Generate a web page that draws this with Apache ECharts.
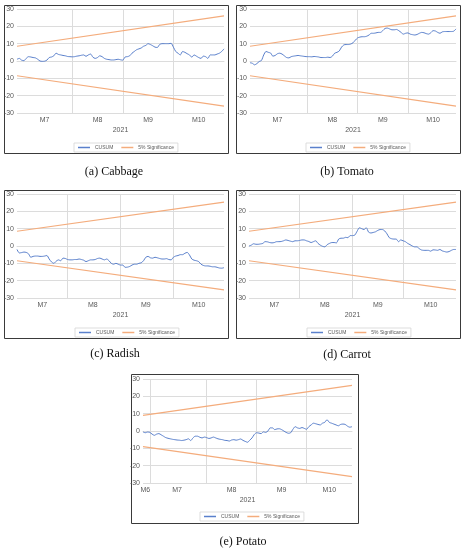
<!DOCTYPE html>
<html><head><meta charset="utf-8">
<script src="https://cdn.jsdelivr.net/npm/echarts@6/dist/echarts.min.js"></script>
<style>html,body{margin:0;padding:0;background:#fff}#c{width:464px;height:550px}</style>
</head><body><div id="c"></div><script>
// ---------- data ----------
const yearLabel = '2021';
const seriesNames = ['CUSUM', '5% Significance'];
const yTickMin = -30, yTickMax = 30, yTickStep = 10;

const cabbageMonths = ['M7','M8','M9','M10'];
const cabbageMonthCounts = [24,22,22,23];
const cabbageCusum = [1,1.5,0.5,0.2,1.5,2.5,2.3,2,1.8,1,0,-0.2,-0.1,0.5,2,2.3,3,4.5,3.8,3.5,3.2,3,2.6,2.5,
  2.4,2.5,2.8,3,3.3,3.5,2.7,3.5,4,2.2,1.5,2,3,2.5,1.5,1,0.8,0.6,0.6,0.8,1,0.7,
  0.5,2.3,2.5,3,4.5,5.5,6.5,7,7.5,8.5,9,10,9.5,8.8,8,7.8,9.5,10,10,10,10,10.2,
  8,5.5,4.5,3.5,5.5,5,4.2,3.5,2.2,3.5,2.8,2,1.5,2.8,2.5,1.5,3.5,3.5,3.5,4,4.5,5.5,7];
const cabbageUpper = [8.5, 26];
const cabbageLower = [-8.5, -26];

const tomatoMonths = ['M7','M8','M9','M10'];
const tomatoMonthCounts = [25,22,22,22];
const tomatoCusum = [-1,-1.3,-2.2,-1.5,-0.3,0.3,3.5,5.5,5,4.6,2.8,3.2,4.2,4.5,4,3,2,1.8,2.5,2.8,3,3.2,3,2.8,2.6,
  2.5,2.5,2.4,2.6,2.5,2.3,2,2,2,2.2,2,2.8,4.5,5,5.8,8,9.3,9.5,9.5,9.8,10.5,
  12,13.3,13.8,14,14,14.3,15,16,16,16.2,16.5,16.5,17.5,18.8,19,18.5,18,18,18.2,17.5,16.5,15.5,
  16,16.2,15.5,15.2,15,15.3,16,16.5,16.3,15.8,15.5,16.3,17.5,17.3,16.5,16,16.8,17,17,17,17,17.2,18.5];
const tomatoUpper = [8.5, 26];
const tomatoLower = [-8.5, -26];

const radishMonths = ['M7','M8','M9','M10'];
const radishMonthCounts = [22,23,23,23];
const radishCusum = [-2,-4,-3.8,-3.5,-3.7,-4.5,-6.5,-6,-5.8,-5.8,-6,-6,-5.8,-5.5,-7.5,-9.2,-10,-8.8,-8,-8.5,-7,-7.2,
  -7.8,-8,-8,-7.8,-7.8,-7.5,-7.8,-8.2,-9,-8.5,-8,-8,-7.8,-7.2,-7,-7.5,-8,-7.5,-8.5,-10,-10.5,-10,-10.5,
  -11,-11,-12.3,-12.2,-11.8,-11,-10.5,-10.5,-10,-9.7,-8.5,-6.5,-6,-6.8,-7,-6.5,-6.8,-7.2,-7.5,-7.5,-7.3,-7.8,-8,
  -6.5,-5.8,-5.5,-5,-5,-4.2,-3.7,-5.2,-7.5,-8.2,-8.5,-9,-10.5,-11.2,-11.5,-11.5,-11.7,-12,-12,-12.3,-12.7,-12.8,-12.5];
const radishUpper = [8.5, 25.3];
const radishLower = [-8.5, -25.3];

const carrotMonths = ['M7','M8','M9','M10'];
const carrotMonthCounts = [22,23,22,24];
const carrotCusum = [0,0.5,1.3,1,1,1.2,1.5,2.5,2.4,2,1.8,2,2.5,2.5,2.6,3,3.5,3.2,2.8,2.5,3,3,
  3.2,3.5,3.5,3,2.6,2,2.5,3,1.5,0.5,-0.2,-0.5,0.8,1.5,2,2,1.8,4,4.5,4.5,5,4.8,6,
  6,6.3,8.5,10.5,10,9.5,10.5,8,7.5,7.8,8.2,9,9.5,9.5,8.7,7,4.8,4.2,4,4,2.5,3.5,
  3,2.5,1.5,0.8,0,-0.5,-0.5,-1.5,-2.3,-2.5,-2.5,-2.5,-3,-2.2,-2.3,-2.5,-2,-2.8,-3.2,-3.5,-3.2,-2.5,-2,-2];
const carrotUpper = [8.5, 25.3];
const carrotLower = [-8.5, -25.3];

const potatoMonths = ['M6','M7','M8','M9','M10'];
const potatoMonthCounts = [3,25,22,22,21];
const potatoCusum = [-0.5,-1,-0.6,
  -0.8,-1.8,-2.5,-1.8,-1.5,-2.2,-3,-3.8,-4.2,-4.5,-4.8,-5,-5.2,-5.3,-5.5,-5.3,-5,-4.5,-5.5,-4,-3,-3,-3.6,-4,-3.5,
  -3.8,-4.3,-4,-3.5,-4,-4.5,-4.8,-5,-5.4,-5.5,-5.8,-5.2,-5,-5.3,-5,-4.6,-5.4,-6,-6.5,-5.3,-4,-2,
  -1,-1.2,-1.5,-0.5,-0.8,0,1.8,1.8,0.8,1.2,1.3,0.8,0,-0.8,-1.3,-1,1,2.5,1.8,1.5,2,1.5,
  1,2.5,3.5,4.5,4.2,3.8,3.5,4.5,5,6.5,5,4.5,4,3.5,3,3.8,4,3.8,2.8,2.2,2.5];
const potatoUpper = [9, 26.3];
const potatoLower = [-9, -26.3];

// ---------- layout (pixels) ----------
const panels = [
  {caption:'(a) Cabbage', months:cabbageMonths, counts:cabbageMonthCounts, cusum:cabbageCusum, up:cabbageUpper, lo:cabbageLower,
   box:[4,5,224,148], grid:[17,9,207,104], legend:[74,143], cap:[114,172]},
  {caption:'(b) Tomato', months:tomatoMonths, counts:tomatoMonthCounts, cusum:tomatoCusum, up:tomatoUpper, lo:tomatoLower,
   box:[236,5,224,148], grid:[250,9,206,104], legend:[306,143], cap:[347,172]},
  {caption:'(c) Radish', months:radishMonths, counts:radishMonthCounts, cusum:radishCusum, up:radishUpper, lo:radishLower,
   box:[4,190,224,148], grid:[17,194,207,104], legend:[75,328], cap:[115,354]},
  {caption:'(d) Carrot', months:carrotMonths, counts:carrotMonthCounts, cusum:carrotCusum, up:carrotUpper, lo:carrotLower,
   box:[236,190,224,148], grid:[249,194,207,104], legend:[307,328], cap:[347,355]},
  {caption:'(e) Potato', months:potatoMonths, counts:potatoMonthCounts, cusum:potatoCusum, up:potatoUpper, lo:potatoLower,
   box:[131,374,227,149], grid:[143,379,209,104], legend:[200,512], cap:[243,542]}
];

const BLUE = '#5A80CC', ORANGE = '#F4AC7C', GRIDC = '#DCDCDC', TXT = '#595959';
const FONT = '"Liberation Sans", Arial, sans-serif';

const grids = [], xAxes = [], yAxes = [], series = [], legends = [], graphics = [];
panels.forEach((p, i) => {
  const cats = [], bounds = new Set(), centers = new Map();
  let start = 0;
  p.months.forEach((m, mi) => {
    for (let k = 0; k < p.counts[mi]; k++) cats.push(m + '-' + (k + 1));
    if (start > 0) bounds.add(start);
    centers.set(Math.round(start + (p.counts[mi] - 1) / 2), m);
    start += p.counts[mi];
  });
  const n = cats.length;
  grids.push({left:p.grid[0], top:p.grid[1], width:p.grid[2], height:p.grid[3], containLabel:false});
  xAxes.push({
    type:'category', gridIndex:i, data:cats, boundaryGap:false,
    name:yearLabel, nameLocation:'middle', nameGap:14,
    nameTextStyle:{fontSize:7, color:TXT, fontFamily:FONT, verticalAlign:'top'},
    axisLine:{show:true, lineStyle:{color:GRIDC, width:1}},
    axisTick:{show:false},
    axisLabel:{interval:(idx)=>centers.has(idx), formatter:(v)=>v.split('-')[0], fontSize:7, color:TXT, fontFamily:FONT, margin:4},
    splitLine:{show:true, interval:(idx)=>bounds.has(idx), lineStyle:{color:GRIDC, width:1}}
  });
  yAxes.push({
    type:'value', gridIndex:i, min:yTickMin, max:yTickMax, interval:yTickStep,
    axisLine:{show:false}, axisTick:{show:false},
    axisLabel:{fontSize:7, color:TXT, fontFamily:FONT, margin:3},
    splitLine:{show:true, lineStyle:{color:GRIDC, width:1}}
  });
  series.push({name:seriesNames[0], type:'line', xAxisIndex:i, yAxisIndex:i, data:p.cusum,
    symbol:'none', smooth:0.25, lineStyle:{color:BLUE, width:1}, itemStyle:{color:BLUE}, z:3});
  series.push({name:seriesNames[1], type:'line', xAxisIndex:i, yAxisIndex:i, data:[[0,p.up[0]],[n-1,p.up[1]]],
    symbol:'none', lineStyle:{color:ORANGE, width:1.2}, itemStyle:{color:ORANGE}, z:2});
  series.push({name:seriesNames[1], type:'line', xAxisIndex:i, yAxisIndex:i, data:[[0,p.lo[0]],[n-1,p.lo[1]]],
    symbol:'none', lineStyle:{color:ORANGE, width:1.2}, itemStyle:{color:ORANGE}, z:2});
  legends.push({
    data:[{name:seriesNames[0], itemStyle:{color:BLUE}}, {name:seriesNames[1], itemStyle:{color:ORANGE}}],
    left:p.legend[0], top:p.legend[1], icon:'rect', itemWidth:12, itemHeight:1.5, itemGap:8,
    padding:[2,4], borderColor:'#D4D4D4', borderWidth:0.8,
    textStyle:{fontSize:5, color:TXT, fontFamily:FONT}, selectedMode:false});
  graphics.push({type:'rect', shape:{x:p.box[0]+0.5, y:p.box[1]+0.5, width:p.box[2], height:p.box[3]},
    style:{fill:'none', stroke:'#3A3A3A', lineWidth:1}, silent:true, z:0});
  graphics.push({type:'text', x:p.cap[0], y:p.cap[1], silent:true,
    style:{text:p.caption, font:'12px "Liberation Serif", "Times New Roman", serif', fill:'#111',
      align:'center', verticalAlign:'middle', textAlign:'center', textVerticalAlign:'middle'}});
});

const chart = echarts.init(document.getElementById('c'), null, {renderer:'canvas'});
chart.setOption({
  backgroundColor:'#fff', animation:false,
  grid:grids, xAxis:xAxes, yAxis:yAxes, series:series, legend:legends, graphic:graphics
});
</script></body></html>
